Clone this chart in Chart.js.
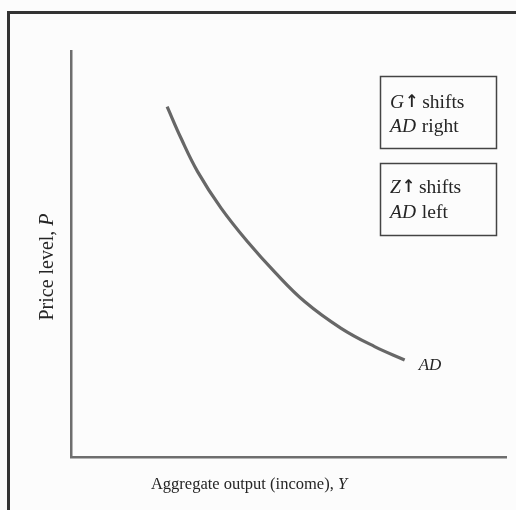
<!DOCTYPE html>
<html>
<head>
<meta charset="utf-8">
<script src="https://cdn.jsdelivr.net/npm/chart.js@4"></script>
<style>
  html,body{margin:0;padding:0;background:#fcfcfc;}
  #wrap{position:relative;width:516px;height:510px;}
</style>
</head>
<body>
<div id="wrap"><canvas id="c" width="516" height="510"></canvas></div>
<script>
// Data (arbitrary units, axes 0..10)
const adX = [2.21, 2.53, 2.91, 3.45, 4.06, 4.68, 5.37, 6.21, 6.98, 7.67];
const adY = [8.63, 7.85, 7.03, 6.13, 5.30, 4.56, 3.83, 3.17, 2.72, 2.39];
const curveLabel = "AD";
const xTitle = "Aggregate output (income), ";
const xTitleVar = "Y";
const yTitle = "Price level, ";
const yTitleVar = "P";
const box1 = [["G", "\u2191", " shifts"], ["AD", "", " right"]];
const box2 = [["Z", "\u2191", " shifts"], ["AD", "", " left"]];

const serif = '"Liberation Serif", "DejaVu Serif", serif';
const textColor = '#252525';

function drawMixed(ctx, x, y, parts, size) {
  let cx = x;
  ctx.font = 'italic ' + size + 'px ' + serif;
  ctx.fillText(parts[0], cx, y);
  cx += ctx.measureText(parts[0]).width + 1;
  if (parts[1]) {
    ctx.font = 'bold ' + (size - 2) + 'px "DejaVu Sans Condensed", "DejaVu Sans", sans-serif';
    ctx.fillText(parts[1], cx, y - 1);
    cx += ctx.measureText(parts[1]).width - 1;
  }
  ctx.font = size + 'px ' + serif;
  ctx.fillText(parts[2], cx, y);
}

const decor = {
  id: 'decor',
  beforeDraw(chart) {
    const ctx = chart.ctx;
    ctx.save();
    ctx.fillStyle = '#fcfcfc';
    ctx.fillRect(0, 0, chart.width, chart.height);
    ctx.restore();
  },
  afterDraw(chart) {
    const ctx = chart.ctx;
    const xs = chart.scales.x, ys = chart.scales.y;
    ctx.save();
    // outer frame
    ctx.strokeStyle = '#333';
    ctx.lineWidth = 3;
    ctx.beginPath();
    ctx.moveTo(8.5, chart.height + 5);
    ctx.lineTo(8.5, 12.5);
    ctx.lineTo(chart.width + 5, 12.5);
    ctx.stroke();

    // boxes
    ctx.strokeStyle = '#444';
    ctx.lineWidth = 1.5;
    ctx.strokeRect(380.5, 76.5, 116, 72);
    ctx.strokeRect(380.5, 163.5, 116, 72);

    ctx.fillStyle = textColor;
    ctx.textBaseline = 'alphabetic';
    ctx.textAlign = 'left';
    drawMixed(ctx, 390, 108, box1[0], 19.5);
    drawMixed(ctx, 390, 132, box1[1], 19.5);
    drawMixed(ctx, 390, 193, box2[0], 19.5);
    drawMixed(ctx, 390, 218, box2[1], 19.5);

    // AD label at end of curve
    const lx = xs.getPixelForValue(adX[adX.length - 1]);
    const ly = ys.getPixelForValue(adY[adY.length - 1]);
    ctx.font = 'italic 17px ' + serif;
    ctx.fillText(curveLabel, lx + 14, ly + 10);

    // x title
    const xs1 = 16.5;
    ctx.font = xs1 + 'px ' + serif;
    let w1 = ctx.measureText(xTitle).width;
    ctx.font = 'italic ' + xs1 + 'px ' + serif;
    let w2 = ctx.measureText(xTitleVar).width;
    let sx = 249 - (w1 + w2) / 2;
    ctx.font = xs1 + 'px ' + serif;
    ctx.fillText(xTitle, sx, 489);
    ctx.font = 'italic ' + xs1 + 'px ' + serif;
    ctx.fillText(xTitleVar, sx + w1, 489);

    // y title (rotated)
    const ys1 = 20;
    ctx.translate(53, 267);
    ctx.rotate(-Math.PI / 2);
    ctx.font = ys1 + 'px ' + serif;
    w1 = ctx.measureText(yTitle).width;
    ctx.font = 'italic ' + ys1 + 'px ' + serif;
    w2 = ctx.measureText(yTitleVar).width;
    sx = -(w1 + w2) / 2;
    ctx.font = ys1 + 'px ' + serif;
    ctx.fillText(yTitle, sx, 0);
    ctx.font = 'italic ' + ys1 + 'px ' + serif;
    ctx.fillText(yTitleVar, sx + w1, 0);
    ctx.restore();
  }
};

new Chart(document.getElementById('c'), {
  type: 'scatter',
  data: {
    datasets: [{
      label: curveLabel,
      data: adX.map((x, i) => ({x: x, y: adY[i]})),
      showLine: true,
      borderColor: '#676767',
      borderWidth: 3.2,
      pointRadius: 0,
      tension: 0.4,
      fill: false
    }]
  },
  options: {
    responsive: false,
    animation: false,
    devicePixelRatio: 1,
    layout: {padding: {left: 71, right: 10, top: 51, bottom: 53}},
    plugins: {legend: {display: false}, tooltip: {enabled: false}},
    scales: {
      x: {
        type: 'linear', min: 0, max: 10,
        ticks: {display: false},
        grid: {display: false, drawTicks: false},
        border: {display: true, color: '#6e6e6e', width: 2.5}
      },
      y: {
        type: 'linear', min: 0, max: 10,
        ticks: {display: false},
        grid: {display: false, drawTicks: false},
        border: {display: true, color: '#6e6e6e', width: 2.5}
      }
    }
  },
  plugins: [decor]
});
</script>
</body>
</html>
